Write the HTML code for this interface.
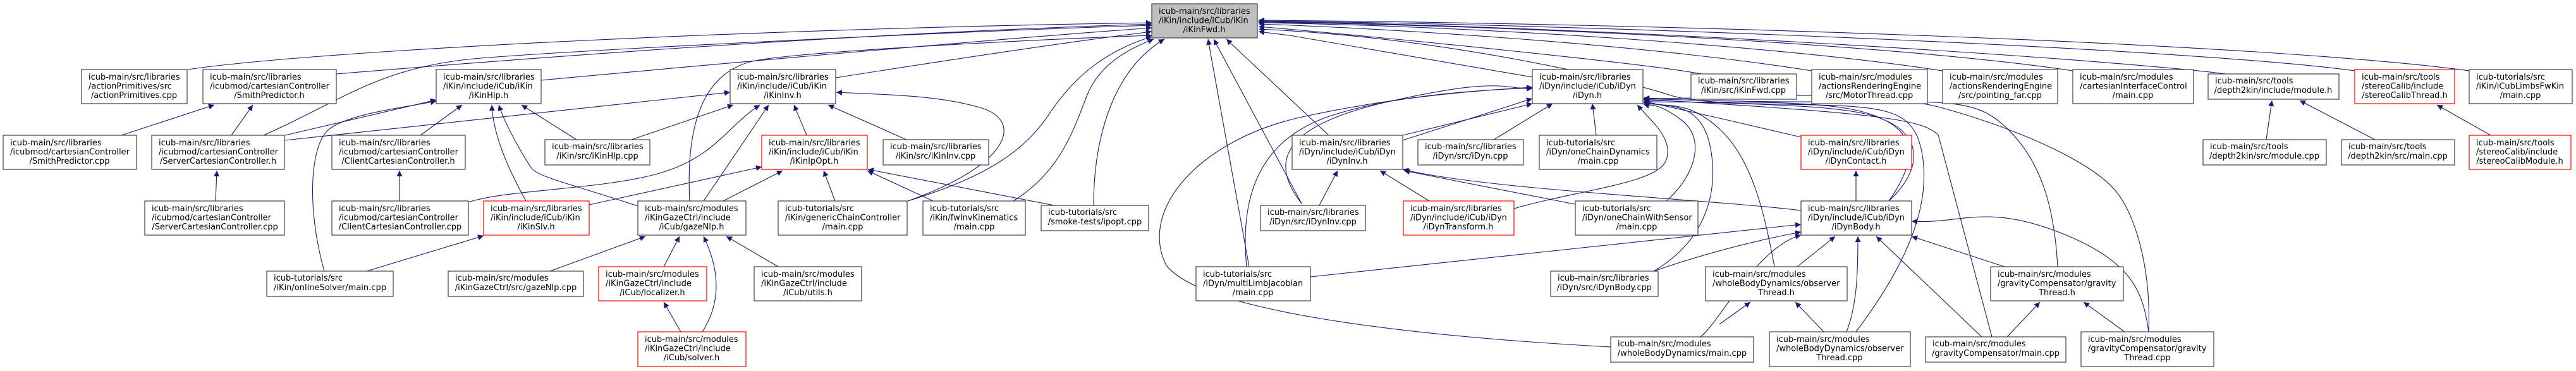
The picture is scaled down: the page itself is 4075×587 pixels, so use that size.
<!DOCTYPE html>
<html><head><meta charset="utf-8"><style>
html,body{margin:0;padding:0;background:#fff;}
svg{display:block;}
text{font-family:"DejaVu Sans","Liberation Sans",sans-serif;font-size:13px;fill:#000;}
.e{fill:none;stroke:#191970;stroke-width:1.1;marker-end:url(#ah);}
.n{fill:#fff;stroke:#404040;stroke-width:1.2;}
.r{fill:#fff;stroke:#ff0000;stroke-width:1.2;}
.g{fill:#bfbfbf;stroke:#404040;stroke-width:1.2;}
.m{text-anchor:middle;}
</style></head><body>
<svg width="4075" height="587" viewBox="0 0 4075 587" xmlns="http://www.w3.org/2000/svg">
<defs><marker id="ah" viewBox="0 0 10 10" refX="10" refY="5" markerWidth="10" markerHeight="9" markerUnits="userSpaceOnUse" orient="auto"><path d="M0,0 L10,5 L0,10 z" fill="#191970"/></marker></defs>
<g>
<!-- root incoming -->
<path class="e" d="M297,110 C500,80 1200,45 1822,36"/>
<path class="e" d="M532,117 C800,95 1300,55 1822,38"/>
<path class="e" d="M856,127 C1200,95 1600,60 1822,44"/>
<path class="e" d="M1322,123 C1500,95 1700,65 1822,50"/>
<path class="e" d="M417,214 C540,160 600,105 760,92 S1500,50 1822,40"/>
<path class="e" d="M1436,318 C1560,280 1620,240 1660,180 S1750,80 1822,58"/>
<path class="e" d="M1603,318 C1680,270 1700,200 1720,150 S1790,75 1825,62"/>
<path class="e" d="M1730,325 C1730,220 1760,110 1842,62"/>
<path class="e" d="M1091,318 C1085,200 1110,110 1200,95 S1650,62 1822,56"/>
<path class="e" d="M1976,422 L1911,62"/>
<path class="e" d="M2059,322 L1920,62"/>
<path class="e" d="M2102,214 L1940,62"/>
<path class="e" d="M2424,122 L2040,56 L1991,50"/>
<path class="e" d="M2692,117 C2600,100 2200,60 1991,42"/>
<path class="e" d="M2866,112 C2600,70 2200,45 1991,38"/>
<path class="e" d="M3073,112 C2800,70 2300,40 1991,36"/>
<path class="e" d="M3279,112 C3000,70 2400,40 1991,35"/>
<path class="e" d="M3522,117 C3300,90 2500,40 1991,34"/>
<path class="e" d="M3725,112 C3500,80 2600,40 1991,33"/>
<path class="e" d="M3906,112 C3600,70 2700,38 1991,32"/>
<path class="e" d="M2988,318 C3050,260 3040,200 2950,180 S2700,170 2640,150 S2300,60 1991,46"/>
<!-- iKin area -->
<path class="e" d="M665,214 L731,166"/>
<path class="e" d="M451,214 L690,158"/>
<path class="e" d="M451,222 L1155,146"/>
<path class="e" d="M366,214 L400,166"/>
<path class="e" d="M192,214 L339,166"/>
<path class="e" d="M341,318 L343,270"/>
<path class="e" d="M632,318 L632,270"/>
<path class="e" d="M513,429 C485,330 490,230 520,205 S640,170 690,160"/>
<path class="e" d="M580,429 L765,373"/>
<path class="e" d="M832,318 C800,260 780,210 778,166"/>
<path class="e" d="M1009,326 C900,290 850,280 840,265 S800,200 789,166"/>
<path class="e" d="M912,221 L825,166"/>
<path class="e" d="M999,221 L1160,166"/>
<path class="e" d="M741,320 C800,300 950,300 1040,275 S1150,200 1202,166"/>
<path class="e" d="M1113,318 L1216,166"/>
<path class="e" d="M1276,214 L1256,166"/>
<path class="e" d="M1434,221 L1310,166"/>
<path class="e" d="M1436,318 C1600,260 1620,190 1550,170 S1400,150 1323,146"/>
<path class="e" d="M932,324 L1205,264"/>
<path class="e" d="M1144,318 L1238,270"/>
<path class="e" d="M1321,318 L1303,270"/>
<path class="e" d="M1476,318 L1372,270"/>
<path class="e" d="M1668,325 L1373,268"/>
<path class="e" d="M870,429 L1021,374"/>
<path class="e" d="M1050,422 L1075,374"/>
<path class="e" d="M1111,525 C1140,480 1140,430 1113,374"/>
<path class="e" d="M1077,525 L1050,478"/>
<path class="e" d="M1231,422 L1149,374"/>
<!-- iDyn area -->
<path class="e" d="M2219,214 L2424,164"/>
<path class="e" d="M2219,222 L2424,156"/>
<path class="e" d="M2059,322 C2010,260 2020,200 2200,160 S2380,142 2424,140"/>
<path class="e" d="M1972,422 C1960,300 2000,220 2100,185 S2350,142 2424,139"/>
<path class="e" d="M2548,549 C2200,530 1900,490 1845,420 C1800,330 1900,220 2060,185 S2360,142 2424,138"/>
<path class="e" d="M2363,221 L2456,164"/>
<path class="e" d="M2525,214 L2519,164"/>
<path class="e" d="M2395,330 C2500,300 2620,290 2635,255 S2610,190 2590,166"/>
<path class="e" d="M2636,318 C2680,280 2700,220 2660,190 S2610,168 2600,165"/>
<path class="e" d="M2616,429 C2700,380 2720,300 2705,230 S2640,170 2600,162"/>
<path class="e" d="M2849,217 L2720,187 L2600,160"/>
<path class="e" d="M2988,318 C3041,243 3028,198 2943,176 S2650,165 2600,160"/>
<path class="e" d="M2807,422 C2790,330 2770,250 2720,204 S2640,170 2600,163"/>
<path class="e" d="M2936,525 C3000,440 3059,337 3040,240 S2943,176 2600,158"/>
<path class="e" d="M3151,533 L3066,213 C3040,190 2988,180 2600,157"/>
<path class="e" d="M3255,422 C3250,330 3230,250 3166,195 S3032,172 2600,156"/>
<path class="e" d="M3399,525 C3403,430 3380,340 3345,300 S3211,210 3077,172 S2700,160 2600,155"/>
<path class="e" d="M2849,333 C2700,315 2350,300 2219,268"/>
<path class="e" d="M2087,325 L2116,270"/>
<path class="e" d="M2261,318 L2183,270"/>
<path class="e" d="M2491,323 L2221,270"/>
<path class="e" d="M2936,318 L2936,270"/>
<path class="e" d="M2073,438 L2849,355"/>
<path class="e" d="M2616,429 C2700,400 2780,380 2849,367"/>
<path class="e" d="M2690,533 C2720,510 2780,390 2849,372"/>
<path class="e" d="M2843,422 L2903,374"/>
<path class="e" d="M2921,525 C2939,480 2939,420 2939,374"/>
<path class="e" d="M3135,533 L2968,374"/>
<path class="e" d="M3171,422 L3024,374"/>
<path class="e" d="M3399,525 C3390,460 3372,412 3256,367 S3100,355 3024,350"/>
<path class="e" d="M2720,513 L2769,478"/>
<path class="e" d="M2885,525 L2840,478"/>
<path class="e" d="M3175,533 L3227,478"/>
<path class="e" d="M3361,525 L3296,478"/>
<path class="e" d="M3585,221 L3594,159"/>
<path class="e" d="M3757,221 L3638,159"/>
<path class="e" d="M3940,214 L3855,166"/>
</g>
<g>
<!-- root -->
<rect class="g" x="1822" y="6" width="167" height="54"/>
<text x="1833" y="22">icub-main/src/libraries</text><text x="1833" y="36.5">/iKin/include/iCub/iKin</text><text class="m" x="1905" y="51">/iKinFwd.h</text>

<!-- Row 1 -->
<rect class="n" x="129" y="110" width="167" height="54"/>
<text x="140" y="126">icub-main/src/libraries</text><text x="140" y="140.5">/actionPrimitives/src</text><text class="m" x="212" y="155">/actionPrimitives.cpp</text>
<rect class="n" x="321" y="110" width="211" height="54"/>
<text x="332" y="126">icub-main/src/libraries</text><text x="332" y="140.5">/icubmod/cartesianController</text><text class="m" x="426" y="155">/SmithPredictor.h</text>
<rect class="n" x="690" y="110" width="166" height="54"/>
<text x="701" y="126">icub-main/src/libraries</text><text x="701" y="140.5">/iKin/include/iCub/iKin</text><text class="m" x="773" y="155">/iKinHlp.h</text>
<rect class="n" x="1155" y="110" width="167" height="54"/>
<text x="1166" y="126">icub-main/src/libraries</text><text x="1166" y="140.5">/iKin/include/iCub/iKin</text><text class="m" x="1238" y="155">/iKinInv.h</text>
<rect class="n" x="2424" y="110" width="175" height="54"/>
<text x="2435" y="126">icub-main/src/libraries</text><text x="2435" y="140.5">/iDyn/include/iCub/iDyn</text><text class="m" x="2511" y="155">/iDyn.h</text>
<rect class="n" x="2675" y="117" width="167" height="40"/>
<text x="2686" y="132">icub-main/src/libraries</text><text class="m" x="2758" y="147">/iKin/src/iKinFwd.cpp</text>
<rect class="n" x="2866" y="110" width="183" height="54"/>
<text x="2877" y="126">icub-main/src/modules</text><text x="2877" y="140.5">/actionsRenderingEngine</text><text class="m" x="2957" y="155">/src/MotorThread.cpp</text>
<rect class="n" x="3073" y="110" width="182" height="54"/>
<text x="3084" y="126">icub-main/src/modules</text><text x="3084" y="140.5">/actionsRenderingEngine</text><text class="m" x="3164" y="155">/src/pointing_far.cpp</text>
<rect class="n" x="3279" y="110" width="191" height="54"/>
<text x="3290" y="126">icub-main/src/modules</text><text x="3290" y="140.5">/cartesianInterfaceControl</text><text class="m" x="3374" y="155">/main.cpp</text>
<rect class="n" x="3493" y="117" width="207" height="40"/>
<text x="3504" y="132">icub-main/src/tools</text><text class="m" x="3596" y="147">/depth2kin/include/module.h</text>
<rect class="r" x="3725" y="110" width="158" height="54"/>
<text x="3736" y="126">icub-main/src/tools</text><text x="3736" y="140.5">/stereoCalib/include</text><text class="m" x="3804" y="155">/stereoCalibThread.h</text>
<rect class="n" x="3906" y="110" width="163" height="54"/>
<text x="3917" y="126">icub-tutorials/src</text><text x="3917" y="140.5">/iKin/iCubLimbsFwKin</text><text class="m" x="3987" y="155">/main.cpp</text>

<!-- Row 2 -->
<rect class="n" x="5" y="214" width="211" height="54"/>
<text x="16" y="230">icub-main/src/libraries</text><text x="16" y="244.5">/icubmod/cartesianController</text><text class="m" x="110" y="259">/SmithPredictor.cpp</text>
<rect class="n" x="240" y="214" width="210" height="54"/>
<text x="251" y="230">icub-main/src/libraries</text><text x="251" y="244.5">/icubmod/cartesianController</text><text class="m" x="345" y="259">/ServerCartesianController.h</text>
<rect class="n" x="525" y="214" width="211" height="54"/>
<text x="536" y="230">icub-main/src/libraries</text><text x="536" y="244.5">/icubmod/cartesianController</text><text class="m" x="630" y="259">/ClientCartesianController.h</text>
<rect class="n" x="862" y="221" width="166" height="40"/>
<text x="873" y="236">icub-main/src/libraries</text><text class="m" x="945" y="251">/iKin/src/iKinHlp.cpp</text>
<rect class="r" x="1205" y="214" width="167" height="54"/>
<text x="1216" y="230">icub-main/src/libraries</text><text x="1216" y="244.5">/iKin/include/iCub/iKin</text><text class="m" x="1288" y="259">/iKinIpOpt.h</text>
<rect class="n" x="1397" y="221" width="167" height="40"/>
<text x="1408" y="236">icub-main/src/libraries</text><text class="m" x="1480" y="251">/iKin/src/iKinInv.cpp</text>
<rect class="n" x="2044" y="214" width="175" height="54"/>
<text x="2055" y="230">icub-main/src/libraries</text><text x="2055" y="244.5">/iDyn/include/iCub/iDyn</text><text class="m" x="2131" y="259">/iDynInv.h</text>
<rect class="n" x="2243" y="221" width="167" height="40"/>
<text x="2254" y="236">icub-main/src/libraries</text><text class="m" x="2326" y="251">/iDyn/src/iDyn.cpp</text>
<rect class="n" x="2435" y="214" width="186" height="54"/>
<text x="2446" y="230">icub-tutorials/src</text><text x="2446" y="244.5">/iDyn/oneChainDynamics</text><text class="m" x="2528" y="259">/main.cpp</text>
<rect class="r" x="2849" y="214" width="175" height="54"/>
<text x="2860" y="230">icub-main/src/libraries</text><text x="2860" y="244.5">/iDyn/include/iCub/iDyn</text><text class="m" x="2936" y="259">/iDynContact.h</text>
<rect class="n" x="3485" y="221" width="195" height="40"/>
<text x="3496" y="236">icub-main/src/tools</text><text class="m" x="3582" y="251">/depth2kin/src/module.cpp</text>
<rect class="n" x="3704" y="221" width="179" height="40"/>
<text x="3715" y="236">icub-main/src/tools</text><text class="m" x="3793" y="251">/depth2kin/src/main.cpp</text>
<rect class="r" x="3906" y="214" width="161" height="54"/>
<text x="3917" y="230">icub-main/src/tools</text><text x="3917" y="244.5">/stereoCalib/include</text><text class="m" x="3986" y="259">/stereoCalibModule.h</text>

<!-- Row 3 -->
<rect class="n" x="229" y="318" width="221" height="54"/>
<text x="240" y="334">icub-main/src/libraries</text><text x="240" y="348.5">/icubmod/cartesianController</text><text class="m" x="340" y="363">/ServerCartesianController.cpp</text>
<rect class="n" x="525" y="318" width="216" height="54"/>
<text x="536" y="334">icub-main/src/libraries</text><text x="536" y="348.5">/icubmod/cartesianController</text><text class="m" x="633" y="363">/ClientCartesianController.cpp</text>
<rect class="r" x="765" y="318" width="167" height="54"/>
<text x="776" y="334">icub-main/src/libraries</text><text x="776" y="348.5">/iKin/include/iCub/iKin</text><text class="m" x="848" y="363">/iKinSlv.h</text>
<rect class="n" x="1009" y="318" width="171" height="54"/>
<text x="1020" y="334">icub-main/src/modules</text><text x="1020" y="348.5">/iKinGazeCtrl/include</text><text class="m" x="1094" y="363">/iCub/gazeNlp.h</text>
<rect class="n" x="1231" y="318" width="204" height="54"/>
<text x="1242" y="334">icub-tutorials/src</text><text x="1242" y="348.5">/iKin/genericChainController</text><text class="m" x="1333" y="363">/main.cpp</text>
<rect class="n" x="1460" y="318" width="162" height="54"/>
<text x="1471" y="334">icub-tutorials/src</text><text x="1471" y="348.5">/iKin/fwInvKinematics</text><text class="m" x="1541" y="363">/main.cpp</text>
<rect class="n" x="1647" y="325" width="170" height="40"/>
<text x="1658" y="340">icub-tutorials/src</text><text class="m" x="1732" y="355">/smoke-tests/ipopt.cpp</text>
<rect class="n" x="1994" y="325" width="166" height="40"/>
<text x="2005" y="340">icub-main/src/libraries</text><text class="m" x="2077" y="355">/iDyn/src/iDynInv.cpp</text>
<rect class="r" x="2220" y="318" width="175" height="54"/>
<text x="2231" y="334">icub-main/src/libraries</text><text x="2231" y="348.5">/iDyn/include/iCub/iDyn</text><text class="m" x="2307" y="363">/iDynTransform.h</text>
<rect class="n" x="2492" y="318" width="194" height="54"/>
<text x="2503" y="334">icub-tutorials/src</text><text x="2503" y="348.5">/iDyn/oneChainWithSensor</text><text class="m" x="2589" y="363">/main.cpp</text>
<rect class="n" x="2849" y="318" width="175" height="54"/>
<text x="2860" y="334">icub-main/src/libraries</text><text x="2860" y="348.5">/iDyn/include/iCub/iDyn</text><text class="m" x="2936" y="363">/iDynBody.h</text>

<!-- Row 4 -->
<rect class="n" x="422" y="429" width="200" height="40"/>
<text x="433" y="444">icub-tutorials/src</text><text class="m" x="522" y="459">/iKin/onlineSolver/main.cpp</text>
<rect class="n" x="709" y="429" width="214" height="40"/>
<text x="720" y="444">icub-main/src/modules</text><text class="m" x="816" y="459">/iKinGazeCtrl/src/gazeNlp.cpp</text>
<rect class="r" x="947" y="422" width="171" height="54"/>
<text x="958" y="438">icub-main/src/modules</text><text x="958" y="452.5">/iKinGazeCtrl/include</text><text class="m" x="1032" y="467">/iCub/localizer.h</text>
<rect class="n" x="1193" y="422" width="170" height="54"/>
<text x="1204" y="438">icub-main/src/modules</text><text x="1204" y="452.5">/iKinGazeCtrl/include</text><text class="m" x="1278" y="467">/iCub/utils.h</text>
<rect class="n" x="1892" y="422" width="181" height="54"/>
<text x="1903" y="438">icub-tutorials/src</text><text x="1903" y="452.5">/iDyn/multiLimbJacobian</text><text class="m" x="1982" y="467">/main.cpp</text>
<rect class="n" x="2453" y="429" width="170" height="40"/>
<text x="2464" y="444">icub-main/src/libraries</text><text class="m" x="2538" y="459">/iDyn/src/iDynBody.cpp</text>
<rect class="n" x="2698" y="422" width="224" height="54"/>
<text x="2709" y="438">icub-main/src/modules</text><text x="2709" y="452.5">/wholeBodyDynamics/observer</text><text class="m" x="2810" y="467">Thread.h</text>
<rect class="n" x="3149" y="422" width="210" height="54"/>
<text x="3160" y="438">icub-main/src/modules</text><text x="3160" y="452.5">/gravityCompensator/gravity</text><text class="m" x="3254" y="467">Thread.h</text>

<!-- Row 5 -->
<rect class="r" x="1009" y="525" width="171" height="55"/>
<text x="1020" y="541">icub-main/src/modules</text><text x="1020" y="555.5">/iKinGazeCtrl/include</text><text class="m" x="1094" y="570">/iCub/solver.h</text>
<rect class="n" x="2548" y="533" width="226" height="40"/>
<text x="2559" y="548">icub-main/src/modules</text><text class="m" x="2661" y="563">/wholeBodyDynamics/main.cpp</text>
<rect class="n" x="2799" y="525" width="223" height="55"/>
<text x="2810" y="541">icub-main/src/modules</text><text x="2810" y="555.5">/wholeBodyDynamics/observer</text><text class="m" x="2910" y="570">Thread.cpp</text>
<rect class="n" x="3046" y="533" width="222" height="40"/>
<text x="3057" y="548">icub-main/src/modules</text><text class="m" x="3157" y="563">/gravityCompensator/main.cpp</text>
<rect class="n" x="3292" y="525" width="210" height="55"/>
<text x="3303" y="541">icub-main/src/modules</text><text x="3303" y="555.5">/gravityCompensator/gravity</text><text class="m" x="3397" y="570">Thread.cpp</text>
</g>
</svg>
</body></html>
